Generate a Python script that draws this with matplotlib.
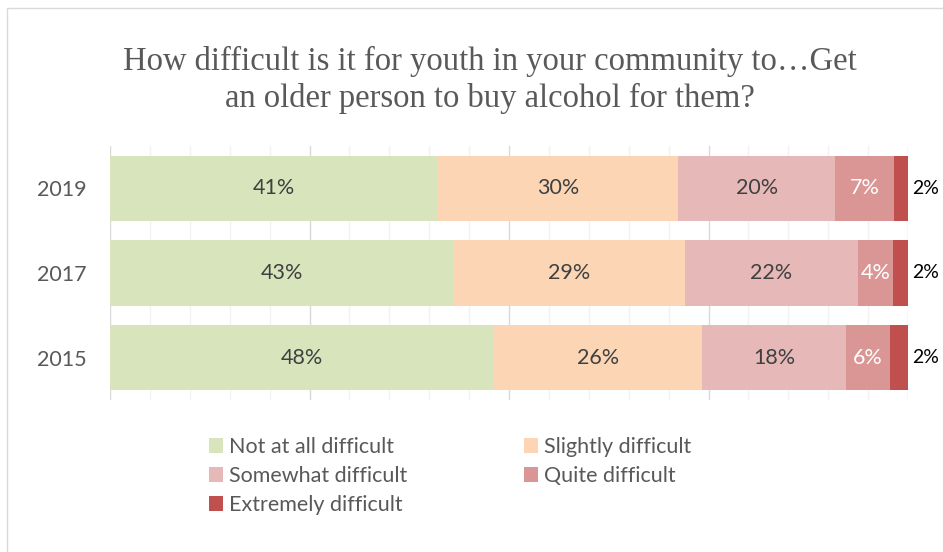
import matplotlib
matplotlib.use("Agg")
import matplotlib.pyplot as plt
from matplotlib.patches import Rectangle
import numpy as np

years = ["2019", "2017", "2015"]
categories = ["Not at all difficult", "Slightly difficult", "Somewhat difficult",
              "Quite difficult", "Extremely difficult"]
not_at_all = [41.1, 43.0, 48.1]
slightly = [30.1, 29.1, 26.1]
somewhat = [19.7, 21.6, 18.0]
quite = [7.3, 4.4, 5.5]
extremely = [1.8, 1.9, 2.3]
labels_not_at_all = ["41%", "43%", "48%"]
labels_slightly = ["30%", "29%", "26%"]
labels_somewhat = ["20%", "22%", "18%"]
labels_quite = ["7%", "4%", "6%"]
labels_extremely = ["2%", "2%", "2%"]

colors = ["#D8E4BC", "#FCD5B5", "#E6B9B8", "#D99694", "#C0504D"]
label_colors = ["#404040", "#404040", "#404040", "#FFFFFF", "#000000"]

series = [not_at_all, slightly, somewhat, quite, extremely]
series_labels = [labels_not_at_all, labels_slightly, labels_somewhat, labels_quite, labels_extremely]

W, H = 943, 552
fig = plt.figure(figsize=(W / 100, H / 100), dpi=100)
fig.patch.set_facecolor("white")

# outer chart border (only top and left visible)
fig.add_artist(Rectangle((6.5 / W, -0.1), 1.2, 1 - 7.5 / H + 0.1, transform=fig.transFigure,
                         fill=False, edgecolor="#D9D9D9", linewidth=1.0))

ax = fig.add_axes([110 / W, 1 - 400 / H, (908 - 110) / W, (400 - 146) / H])
ypos = np.arange(len(years))
left = np.zeros(len(years))
bar_h = 0.77
font = "Lato"
handles = []
for i, (vals, labs) in enumerate(zip(series, series_labels)):
    vals = np.array(vals)
    b = ax.barh(ypos, vals, left=left, height=bar_h, color=colors[i], label=categories[i],
                zorder=3, linewidth=0)
    handles.append(b)
    for j in range(len(years)):
        if i < 4:
            ax.text(left[j] + vals[j] / 2, ypos[j], labs[j], ha="center", va="center",
                    color=label_colors[i], fontsize=15.5, family=font, zorder=4)
        else:
            ax.text(left[j] + vals[j] + 0.5, ypos[j], labs[j], ha="left", va="center",
                    color=label_colors[i], fontsize=14, family=font, zorder=4, clip_on=False)
    left += vals

ax.set_xlim(0, 100)
ax.set_ylim(len(years) - 0.5, -0.5)
ax.set_xticks([0, 25, 50, 75, 100])
ax.set_xticks(np.arange(0, 101, 5), minor=True)
ax.grid(axis="x", which="minor", color="#F2F2F2", linewidth=1.0, zorder=0)
ax.grid(axis="x", which="major", color="#D9D9D9", linewidth=1.0, zorder=1)
ax.tick_params(axis="x", which="both", length=0, labelbottom=False)
ax.set_yticks(ypos)
ax.set_yticklabels(years, family=font, fontsize=15.5, color="#595959")
ax.tick_params(axis="y", length=0, pad=16.5)
for s in ax.spines.values():
    s.set_visible(False)

fig.text(490 / W, 1 - 80 / H,
         "How difficult is it for youth in your community to…Get\nan older person to buy alcohol for them?",
         ha="center", va="center", fontsize=23.5, family="Liberation Serif", color="#595959",
         linespacing=1.25)

order = [0, 2, 4, 1, 3]
leg = ax.legend([handles[k] for k in order], [categories[k] for k in order],
                loc="upper left", bbox_to_anchor=(209 / W, 1 - 437 / H),
                bbox_transform=fig.transFigure, ncol=2, frameon=False,
                prop={"family": font, "size": 15.5}, handlelength=0.65, handleheight=0.65,
                handletextpad=0.3, columnspacing=5.4, labelspacing=0.42, borderpad=0,
                borderaxespad=0)
for t in leg.get_texts():
    t.set_color("#595959")

fig.savefig("out.png", dpi=100, facecolor="white")
